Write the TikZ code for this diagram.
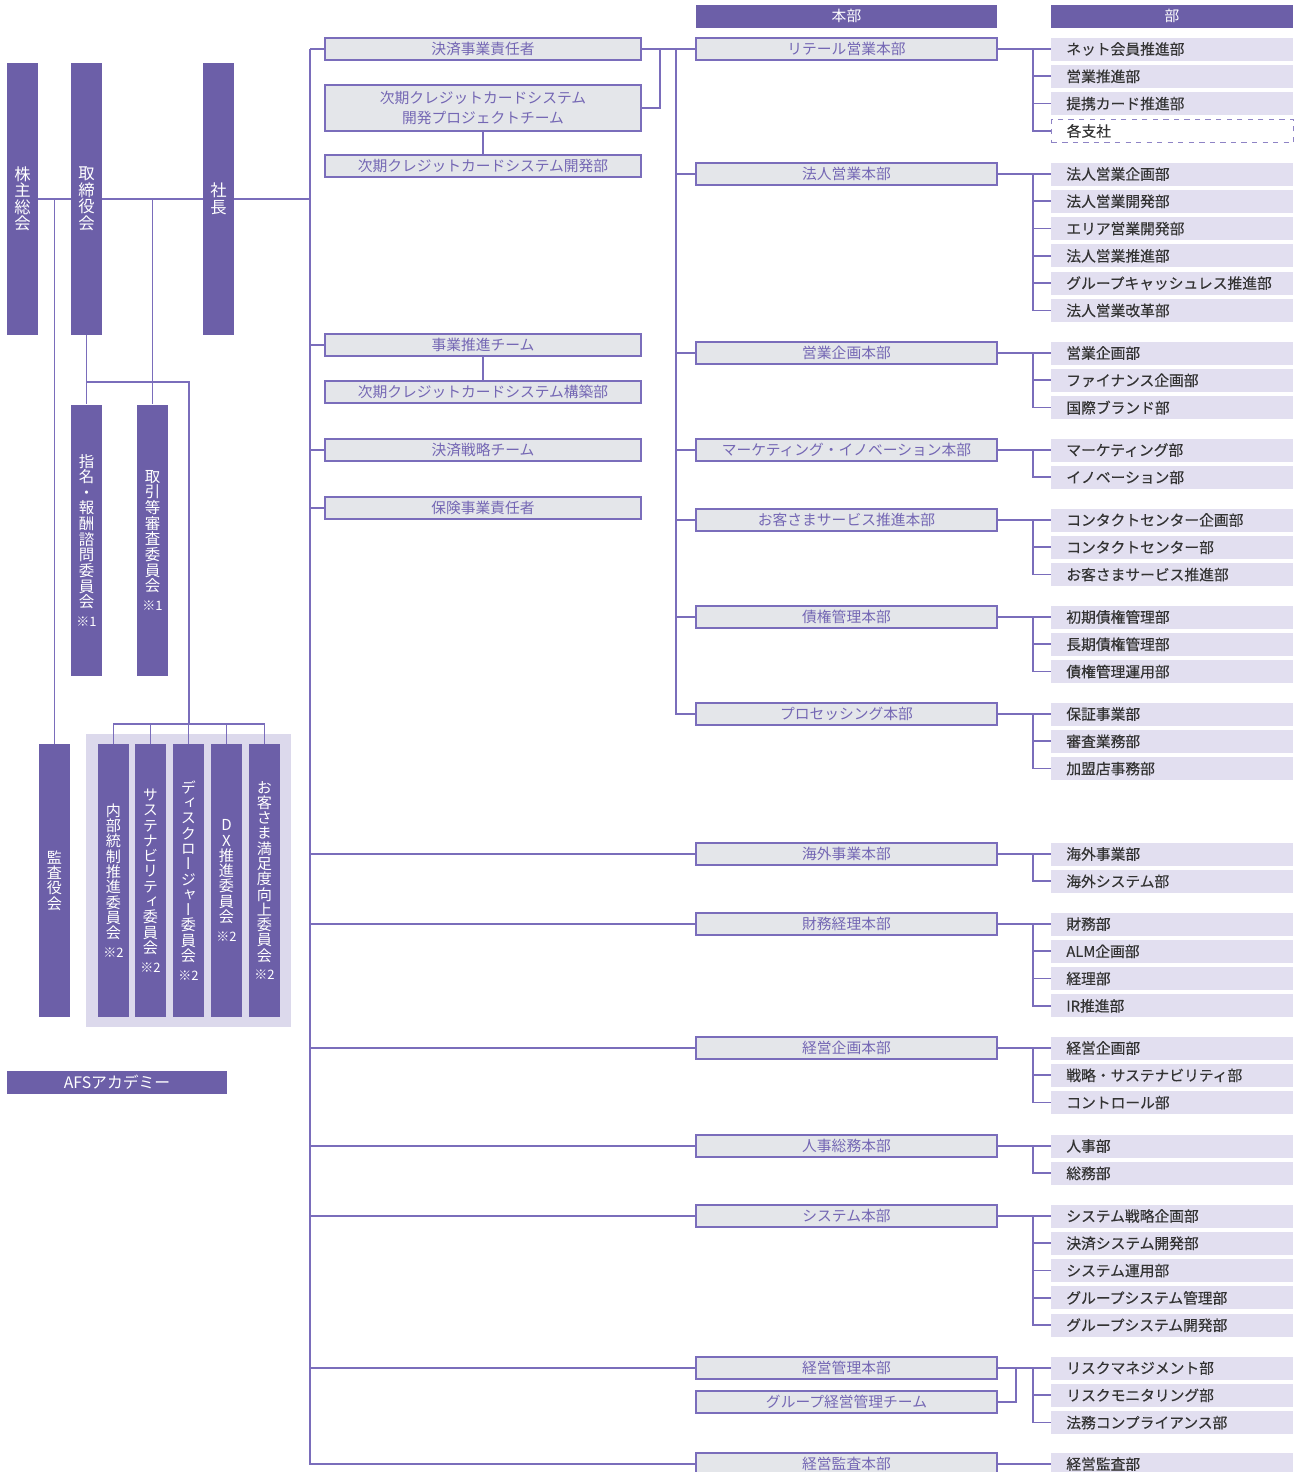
\documentclass[tikz,border=0pt]{standalone}
\usepackage{fontspec}
\setmainfont{Noto Sans CJK JP}
\newfontfamily\jpv[RawFeature=+vert]{Noto Sans CJK JP}
\newfontfamily\jpd[FakeBold=0.3]{Noto Sans CJK JP}
\definecolor{barc}{HTML}{6C5FA8}
\definecolor{linec}{HTML}{7A6DBB}
\definecolor{boxfill}{HTML}{E4E6EA}
\definecolor{boxtxt}{HTML}{7467B4}
\definecolor{deptfill}{HTML}{E2DFF0}
\definecolor{grpfill}{HTML}{DCD9EC}
\definecolor{depttxt}{HTML}{333333}
\tikzset{
  bar/.style={fill=barc,text=white,inner sep=0pt,minimum width=0.62cm,minimum height=5.44cm,
    align=center,font=\jpv\fontsize{9.3}{9.4}\selectfont},
  sbar/.style={bar,font=\jpv\fontsize{8.8}{8.9}\selectfont},
  cbar/.style={bar,minimum height=5.46cm,font=\jpv\fontsize{8.6}{8.7}\selectfont},
  head/.style={fill=barc,text=white,inner sep=0pt,minimum height=0.46cm,font=\fontsize{8.4}{10}\selectfont},
  hq/.style={draw=linec,line width=1.1pt,fill=boxfill,text=boxtxt,inner sep=0pt,
    minimum width=6.02cm,minimum height=0.44cm,font=\fontsize{8.4}{11.4}\selectfont},
  team/.style={hq,minimum width=6.32cm,align=center},
  dept/.style={fill=deptfill,text=depttxt,anchor=west,inner xsep=0.3cm,inner ysep=0pt,
    text width=4.24cm,minimum height=0.46cm,align=left,font=\jpd\fontsize{8.4}{10}\selectfont},
  link/.style={draw=linec,line width=1pt},
}
\newcommand\note[1]{\\[2pt]{\fontsize{7.4}{8}\selectfont #1}}
% one 本部 and its 部, stacked under each other
\newcommand\deptgroup[4]{%
  \draw[link] (#2.east) -- (#2.east -| dtr);
  \foreach \t [count=\i from 0] in {#4} {
    \node[dept] (#1-\i) at (1051,#3+27.3*\i) {\t};
    \draw[link] (#2.east -| dtr) |- (#1-\i.west);
  }
}
\begin{document}
\begin{tikzpicture}[x=0.02cm,y=-0.02cm]
\useasboundingbox (0,0) rectangle (1294,1472);
\coordinate (tr) at (310,49);
\coordinate (hj) at (676,49);
\coordinate (ptj) at (660,0);
\coordinate (dtr) at (1033,0);
\coordinate (cj) at (189,382);
\coordinate (cb) at (189,724);

% left side
\fill[grpfill] (86,734) rectangle (291,1027);
\node[bar] (kabu) at (22.5,199) {株\\主\\総\\会};
\node[bar] (tori) at (86.5,199) {取\\締\\役\\会};
\node[bar] (pres) at (218.5,199) {社\\長};
\node[sbar] (shimei) at (86.5,540.5) {指\\名\\・\\報\\酬\\諮\\問\\委\\員\\会\note{※1}};
\node[sbar] (torihiki) at (152.5,540.5) {取\\引\\等\\審\\査\\委\\員\\会\note{※1}};
\node[cbar] (kansa) at (54.5,880.5) {監\\査\\役\\会};
\node[cbar] (c1) at (113.5,880.5) {内\\部\\統\\制\\推\\進\\委\\員\\会\note{※2}};
\node[cbar] (c2) at (150.5,880.5) {サ\\ス\\テ\\ナ\\ビ\\リ\\テ\\ィ\\委\\員\\会\note{※2}};
\node[cbar] (c3) at (188.5,880.5) {デ\\ィ\\ス\\ク\\ロ\\ー\\ジ\\ャ\\ー\\委\\員\\会\note{※2}};
\node[cbar] (c4) at (226.5,880.5) {D\\X\\推\\進\\委\\員\\会\note{※2}};
\node[cbar] (c5) at (264.5,880.5) {お\\客\\さ\\ま\\満\\足\\度\\向\\上\\委\\員\\会\note{※2}};
\node[head,minimum width=4.4cm,font=\fontsize{9}{10}\selectfont] (afs) at (117,1082) {AFSアカデミー};

\draw[link] (kabu.east) -- (tori.west);
\draw[link] (tori.east) -- (pres.west);
\draw[link] (pres.east) -- (pres.east -| tr);
\draw[link] (kansa.north) -- (kansa.north |- kabu.east);
\draw[link] (torihiki.north) -- (torihiki.north |- tori.east);
\draw[link] (tori.south) -- (shimei.north);
\draw[link] (shimei.north |- cj) -- (cj) -- (cb);
\draw[link] (c1.north) |- (cb) -| (c5.north);
\foreach \c in {c2,c3,c4} \draw[link] (\c.north) -- (\c.north |- cb);

% teams
\node[team] (kessai) at (483,49) {決済事業責任者};
\node[team,minimum height=0.92cm] (pt) at (483,108) {次期クレジットカードシステム\\開発プロジェクトチーム};
\node[team] (kaihatsu) at (483,166) {次期クレジットカードシステム開発部};
\node[team] (jigyo) at (483,345) {事業推進チーム};
\node[team] (kouchiku) at (483,392) {次期クレジットカードシステム構築部};
\node[team] (senryaku) at (483,450) {決済戦略チーム};
\node[team] (hoken) at (483,508) {保険事業責任者};
\draw[link] (pt.south) -- (kaihatsu.north);
\draw[link] (jigyo.south) -- (kouchiku.north);
\draw[link] (pt.east) -| (kessai.east -| ptj);

% headers
\node[head,minimum width=6.02cm] (hhq) at (846.5,16) {本部};
\node[head,minimum width=4.84cm] (hdept) at (1172,16) {部};

% 本部
\node[hq] (h1) at (846.5,49) {リテール営業本部};
\node[hq] (h2) at (846.5,174) {法人営業本部};
\node[hq] (h3) at (846.5,353) {営業企画本部};
\node[hq] (h4) at (846.5,450) {マーケティング・イノベーション本部};
\node[hq] (h5) at (846.5,520) {お客さまサービス推進本部};
\node[hq] (h6) at (846.5,617) {債権管理本部};
\node[hq] (h7) at (846.5,714) {プロセッシング本部};
\node[hq] (h8) at (846.5,854) {海外事業本部};
\node[hq] (h9) at (846.5,924) {財務経理本部};
\node[hq] (h10) at (846.5,1048) {経営企画本部};
\node[hq] (h11) at (846.5,1146) {人事総務本部};
\node[hq] (h12) at (846.5,1216) {システム本部};
\node[hq] (h13) at (846.5,1368) {経営管理本部};
\node[hq] (gteam) at (846.5,1402) {グループ経営管理チーム};
\node[hq] (h14) at (846.5,1464) {経営監査本部};

\draw[link] (tr) |- (h14.west);
\foreach \n in {kessai,jigyo,senryaku,hoken,h8,h9,h10,h11,h12,h13}
  \draw[link] (\n.west) -- (\n.west -| tr);
\draw[link] (kessai.east) -- (h1.west);
\draw[link] (hj) |- (h7.west);
\foreach \n in {h2,h3,h4,h5,h6}
  \draw[link] (\n.west) -- (\n.west -| hj);
\draw[link] (gteam.east) -| (h13.east -| 1016,0);

% 部
\deptgroup{d1}{h1}{49}{ネット会員推進部,営業推進部,提携カード推進部}
\node[dept,fill=white,draw=linec!85,dashed,line width=0.8pt] (d1-3) at (1051,131) {各支社};
\draw[link] (h1.east -| dtr) |- (d1-3.west);
\deptgroup{d2}{h2}{174}{法人営業企画部,法人営業開発部,エリア営業開発部,法人営業推進部,グループキャッシュレス推進部,法人営業改革部}
\deptgroup{d3}{h3}{353}{営業企画部,ファイナンス企画部,国際ブランド部}
\deptgroup{d4}{h4}{450}{マーケティング部,イノベーション部}
\deptgroup{d5}{h5}{520}{コンタクトセンター企画部,コンタクトセンター部,お客さまサービス推進部}
\deptgroup{d6}{h6}{617}{初期債権管理部,長期債権管理部,債権管理運用部}
\deptgroup{d7}{h7}{714}{保証事業部,審査業務部,加盟店事務部}
\deptgroup{d8}{h8}{854}{海外事業部,海外システム部}
\deptgroup{d9}{h9}{924}{財務部,ALM企画部,経理部,IR推進部}
\deptgroup{d10}{h10}{1048}{経営企画部,戦略・サステナビリティ部,コントロール部}
\deptgroup{d11}{h11}{1146}{人事部,総務部}
\deptgroup{d12}{h12}{1216}{システム戦略企画部,決済システム開発部,システム運用部,グループシステム管理部,グループシステム開発部}
\deptgroup{d13}{h13}{1368}{リスクマネジメント部,リスクモニタリング部,法務コンプライアンス部}
\deptgroup{d14}{h14}{1464}{経営監査部}
\end{tikzpicture}
\end{document}
